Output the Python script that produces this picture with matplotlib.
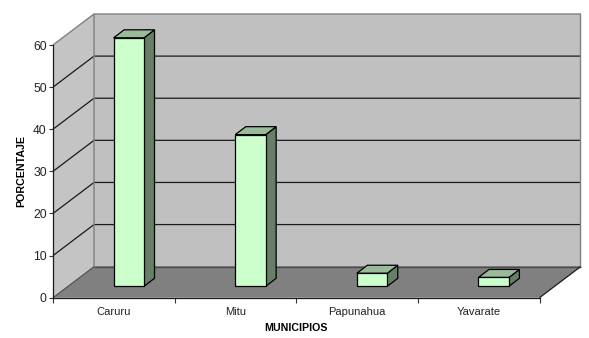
import matplotlib
matplotlib.use('Agg')
import matplotlib.pyplot as plt
from matplotlib.patches import Polygon

plt.rcParams['font.family'] = ['Liberation Sans', 'DejaVu Sans']

municipios = ['Caruru', 'Mitu', 'Papunahua', 'Yavarate']
porcentaje = [59, 36, 3.1, 2.1]
y_ticks = [0, 10, 20, 30, 40, 50, 60]

W, H = 589, 338
# oblique depth of the box, in data units
depth_x = 41 / 121.6
depth_y = 31 / 42.1 * 10
bar_w = 0.25

fig = plt.figure(figsize=(W / 100, H / 100), dpi=100, facecolor='white')
ax = fig.add_axes([53 / W, 1 - 297.7 / H, 486.5 / W, 252.7 / H])
ax.set_xlim(0, 4)
ax.set_ylim(0, 60)
ax.patch.set_visible(False)


def poly(pts, fc, ec='none', lw=0.9, z=1):
    ax.add_patch(Polygon(pts, closed=True, facecolor=fc, edgecolor=ec, linewidth=lw,
                         zorder=z, clip_on=False, joinstyle='miter'))


def line(xs, ys, c, lw=0.9, z=2):
    ax.plot(xs, ys, color=c, linewidth=lw, zorder=z, clip_on=False, solid_capstyle='butt')


# walls and floor
poly([(0, 0), (depth_x, depth_y), (4 + depth_x, depth_y), (4 + depth_x, 60 + depth_y),
      (depth_x, 60 + depth_y)], '#c0c0c0')
poly([(0, 0), (depth_x, depth_y), (depth_x, 60 + depth_y), (0, 60)], '#c4c4c4')
poly([(0, 0), (4, 0), (4 + depth_x, depth_y), (depth_x, depth_y)], '#808080')

# gridlines
for v in y_ticks[1:-1]:
    line([0, depth_x, 4 + depth_x], [v, v + depth_y, v + depth_y], '#1a1a1a')
line([0, depth_x, 4 + depth_x, 4 + depth_x, depth_x, depth_x],
     [60, 60 + depth_y, 60 + depth_y, depth_y, depth_y, 60 + depth_y], '#808080', lw=1.0)
line([depth_x, 4 + depth_x], [depth_y, depth_y], '#4d4d4d', lw=1.0)
line([0, depth_x], [0, depth_y], '#4d4d4d', lw=0.8)
line([4, 4 + depth_x], [0, depth_y], '#1a1a1a', lw=0.9)

# bars sit part way into the floor
bx = 15 / 121.6
by = 11.4 / 42.1 * 10
bdx = 10.5 / 121.6
bdy = 8 / 42.1 * 10
for i, val in enumerate(porcentaje):
    x0 = i + 0.5 - bar_w / 2 + bx
    x1 = x0 + bar_w
    y0 = by
    y1 = by + val
    poly([(x1, y0), (x1 + bdx, y0 + bdy), (x1 + bdx, y1 + bdy), (x1, y1)], '#667f66', 'black', z=3)
    poly([(x0, y1), (x1, y1), (x1 + bdx, y1 + bdy), (x0 + bdx, y1 + bdy)], '#99bb99', 'black', z=3)
    poly([(x0, y0), (x1, y0), (x1, y1), (x0, y1)], '#ccffcc', 'black', z=4)

for s in ['top', 'right']:
    ax.spines[s].set_visible(False)
for s in ['left', 'bottom']:
    ax.spines[s].set_linewidth(0.9)
    ax.spines[s].set_color('#1a1a1a')
    ax.spines[s].set_zorder(5)

ax.set_yticks(y_ticks)
ax.set_xticks(range(5))
ax.set_xticklabels([])
ax.set_xticks([i + 0.5 for i in range(4)], municipios, minor=True)
ax.tick_params(axis='x', which='minor', length=0, pad=7, labelsize=8, labelcolor='#222222')
ax.tick_params(axis='x', which='major', length=3.5, width=0.8, color='#333333')
ax.tick_params(axis='y', length=3, width=0.8, pad=1.5, labelsize=8.7, labelcolor='#222222', color='#333333')

fig.text(296 / W, 1 - 328 / H, 'MUNICIPIOS', fontsize=7.7, fontweight='bold', ha='center', va='center')
fig.text(21 / W, 1 - 171 / H, 'PORCENTAJE', fontsize=7.7, fontweight='bold', ha='center', va='center', rotation=90)

fig.savefig('out.png', dpi=100)
